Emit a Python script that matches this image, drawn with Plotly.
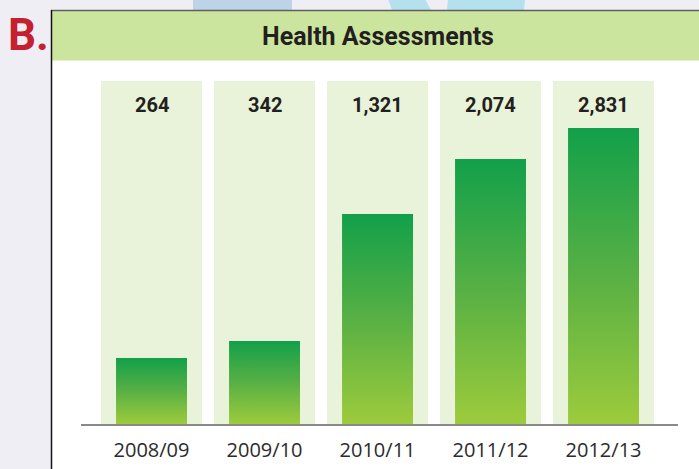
import plotly.graph_objects as go

# ---- data ----
categories = ["2008/09", "2009/10", "2010/11", "2011/12", "2012/13"]
values = [264, 342, 1321, 2074, 2831]              # printed labels
bar_heights = [66, 83, 210, 265, 296]              # drawn bar heights (relative units, as in the graphic)
value_labels = [f"{v:,}" for v in values]
title_text = "Health Assessments"
panel_letter = "B."

# ---- geometry / style ----
W, H = 699, 469
ML, MR, MT, MB = 81, 21, 81, 45
PW, PH = W - ML - MR, H - MT - MB
YMAX = 343
BAR_W = 0.628
COL_W = 0.894
BOLDFONT = "Roboto, Liberation Sans, sans-serif"
DARK = "#231f20"


def px_x(px):
    return (px - ML) / PW


def px_y(py):
    return (H - MB - py) / PH


fig = go.Figure()

for i, h in enumerate(bar_heights):
    xs = [i - BAR_W / 2, i + BAR_W / 2, i + BAR_W / 2, i - BAR_W / 2, i - BAR_W / 2]
    ys = [0, 0, h, h, 0]
    fig.add_trace(go.Scatter(
        x=xs, y=ys, mode="none", fill="toself",
        fillgradient=dict(type="vertical",
                          colorscale=[[0, "#9dcb3c"], [0.5, "#58b044"], [1, "#12a04a"]]),
        hoverinfo="skip", showlegend=False,
    ))

shapes = []
# faint decorative shapes at the top edge
shapes.append(dict(type="rect", xref="paper", yref="paper",
                   x0=px_x(193), x1=px_x(292), y0=px_y(10), y1=px_y(-1),
                   fillcolor="#bcd3e8", line_width=0, layer="below"))
shapes.append(dict(type="path", xref="paper", yref="paper",
                   path=f"M {px_x(388)} {px_y(-1)} L {px_x(425)} {px_y(-1)} L {px_x(431)} {px_y(10)} L {px_x(392)} {px_y(10)} Z",
                   fillcolor="#b5e1ef", line_width=0, layer="below"))
shapes.append(dict(type="path", xref="paper", yref="paper",
                   path=f"M {px_x(448)} {px_y(-1)} L {px_x(525)} {px_y(-1)} L {px_x(524)} {px_y(10)} L {px_x(447)} {px_y(10)} Z",
                   fillcolor="#b5e1ef", line_width=0, layer="below"))
# white panel
shapes.append(dict(type="rect", xref="paper", yref="paper",
                   x0=px_x(51), x1=px_x(700), y0=px_y(470), y1=px_y(10),
                   fillcolor="white", line_width=0, layer="below"))
# title banner
shapes.append(dict(type="rect", xref="paper", yref="paper",
                   x0=px_x(51), x1=px_x(700), y0=px_y(60.5), y1=px_y(10),
                   fillcolor="#cce59e", line_width=0, layer="below"))
# panel borders
shapes.append(dict(type="line", xref="paper", yref="paper",
                   x0=px_x(51), x1=px_x(700), y0=px_y(10.5), y1=px_y(10.5),
                   line=dict(color="#5f5f5f", width=1.5), layer="below"))
shapes.append(dict(type="line", xref="paper", yref="paper",
                   x0=px_x(51.5), x1=px_x(51.5), y0=px_y(470), y1=px_y(10),
                   line=dict(color="#111111", width=1.5), layer="below"))
# background columns
for i in range(len(categories)):
    shapes.append(dict(type="rect", xref="x", yref="y",
                       x0=i - COL_W / 2, x1=i + COL_W / 2, y0=0, y1=YMAX,
                       fillcolor="#e9f3d9", line_width=0, layer="below"))

annotations = []
for i, lab in enumerate(value_labels):
    annotations.append(dict(x=i, y=YMAX - 23.5, xref="x", yref="y", text=lab,
                            showarrow=False, xanchor="center", yanchor="middle",
                            font=dict(family=BOLDFONT, size=20, color=DARK, weight="bold")))
annotations.append(dict(x=px_x(378), y=px_y(37), xref="paper", yref="paper", text=title_text,
                        showarrow=False, xanchor="center", yanchor="middle",
                        font=dict(family=BOLDFONT, size=25, color=DARK, weight="bold")))
annotations.append(dict(x=px_x(6), y=px_y(35), xref="paper", yref="paper", text=panel_letter,
                        showarrow=False, xanchor="left", yanchor="middle",
                        font=dict(family=BOLDFONT, size=44, color="#c4202f", weight="bold")))

fig.update_layout(
    width=W, height=H,
    margin=dict(l=ML, r=MR, t=MT, b=MB, pad=0, autoexpand=False),
    paper_bgcolor="#eeeef4",
    plot_bgcolor="rgba(0,0,0,0)",
    shapes=shapes,
    annotations=annotations,
    showlegend=False,
    xaxis=dict(range=[-0.624, 4.659], tickvals=list(range(len(categories))), ticktext=categories,
               showgrid=False, zeroline=False, showline=True, linecolor="#8a8a8a", linewidth=2,
               ticks="", ticklabelstandoff=7, automargin=False,
               tickfont=dict(family="Open Sans, Liberation Sans, sans-serif", size=20, color="#2b2b2b"),
               fixedrange=True),
    yaxis=dict(range=[0, YMAX], visible=False, showgrid=False, zeroline=False, fixedrange=True,
               automargin=False),
)

fig.write_html("out.html", config={"displayModeBar": False},
               post_script="document.body.style.margin='0';document.body.style.background='#eeeef4';")
